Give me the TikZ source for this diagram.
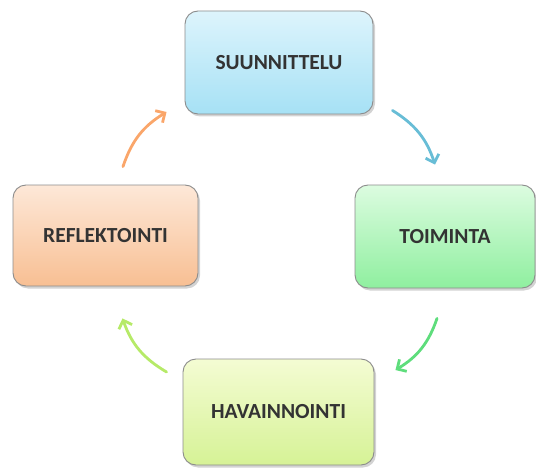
\documentclass[tikz,border=0pt]{standalone}
\usepackage{fontspec}
\setmainfont{Carlito}
\usetikzlibrary{shadows,arrows.meta,calc}

\definecolor{txt}{HTML}{333333}
\definecolor{edge}{HTML}{8C8C8C}
\definecolor{blueTop}{HTML}{DDF4FC}
\definecolor{blueBot}{HTML}{A6E1F5}
\definecolor{greenTop}{HTML}{DCFCE0}
\definecolor{greenBot}{HTML}{8FEF9F}
\definecolor{limeTop}{HTML}{F4FCD3}
\definecolor{limeBot}{HTML}{D6F296}
\definecolor{peachTop}{HTML}{FDE8D8}
\definecolor{peachBot}{HTML}{F8BF93}
\definecolor{arBlue}{HTML}{68BDD6}
\definecolor{arGreen}{HTML}{5EDD7C}
\definecolor{arLime}{HTML}{B6EA68}
\definecolor{arOrange}{HTML}{FAA66A}

\tikzset{
  x=1pt, y=1pt,
  phase/.style={draw=edge, line width=0.9pt, rounded corners=13pt,
    inner sep=0pt, text=txt, font=\bfseries\fontsize{21.5}{24}\selectfont,
    drop shadow={shadow xshift=2pt, shadow yshift=-2.5pt, opacity=0.35}},
  cyclearrow/.style={line width=2.8pt, line cap=round,
    -{Straight Barb[length=7pt,width=14pt,line width=2.8pt]}, bend left=20}
}

\begin{document}
\begin{tikzpicture}
\useasboundingbox (0,0) rectangle (536,467);

% the four phases of the cycle
\node[phase, top color=blueTop, bottom color=blueBot,
      minimum width=188pt, minimum height=103pt] (plan) at (279,404.5) {SUUNNITTELU};
\node[phase, top color=greenTop, bottom color=greenBot,
      minimum width=180pt, minimum height=103pt] (act) at (445,230.5) {TOIMINTA};
\node[phase, top color=limeTop, bottom color=limeBot,
      minimum width=191pt, minimum height=106pt] (obs) at (278.5,55) {HAVAINNOINTI};
\node[phase, top color=peachTop, bottom color=peachBot,
      minimum width=185pt, minimum height=101pt] (refl) at (105.5,231.5) {REFLEKTOINTI};

% free ends of the arrows between the phases
\coordinate (a1s) at ($(plan.south east)+(19,4)$);
\coordinate (a1e) at ($(act.north)+(-10,20)$);
\coordinate (a2s) at ($(act.south)+(-8,-30)$);
\coordinate (a2e) at ($(obs.east)+(21,42)$);
\coordinate (a3s) at ($(obs.west)+(-16,40)$);
\coordinate (a3e) at ($(refl.south)+(17,-32)$);
\coordinate (a4s) at ($(refl.north)+(17.5,18)$);
\coordinate (a4e) at ($(plan.west)+(-18,-49.5)$);

\draw[cyclearrow, arBlue] (a1s) to (a1e);
\draw[cyclearrow, arGreen] (a2s) to (a2e);
\draw[cyclearrow, arLime] (a3s) to (a3e);
\draw[cyclearrow, arOrange] (a4s) to (a4e);
\end{tikzpicture}
\end{document}
